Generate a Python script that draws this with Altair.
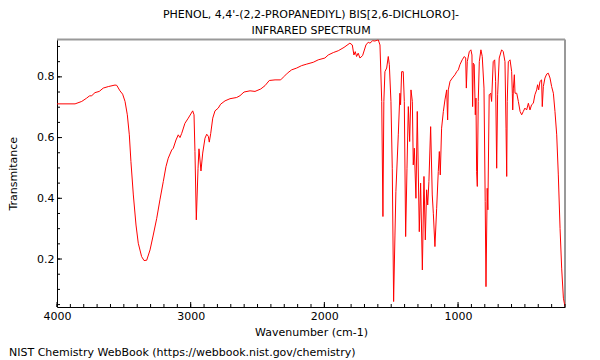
import altair as alt
import pandas as pd

# ---- data ----
wavenumber = [4000, 3865, 3815, 3778, 3758, 3740, 3716, 3684, 3654, 3616, 3566, 3553, 3529, 3509,
              3491, 3474, 3459, 3447, 3429, 3409, 3392, 3367, 3349, 3329, 3304, 3280, 3254, 3230,
              3205, 3185, 3168, 3142, 3130, 3110, 3093, 3080, 3067, 3043, 3018, 2985, 2975, 2968,
              2958, 2945, 2938, 2923, 2910, 2893, 2880, 2868, 2861, 2850, 2835, 2818, 2794, 2776,
              2743, 2706, 2656, 2631, 2601, 2556, 2519, 2476, 2444, 2412, 2369, 2327, 2302, 2277,
              2245, 2207, 2170, 2132, 2083, 2046, 1996, 1971, 1933, 1896, 1853, 1809, 1791, 1779,
              1769, 1759, 1747, 1734, 1714, 1689, 1672, 1659, 1639, 1622, 1597, 1584, 1571, 1562,
              1555, 1547, 1534, 1522, 1514, 1502, 1492, 1482, 1472, 1465, 1447, 1435, 1430, 1422,
              1410, 1402, 1392, 1382, 1372, 1362, 1352, 1342, 1335, 1327, 1315, 1305, 1290, 1280,
              1267, 1255, 1245, 1235, 1227, 1218, 1205, 1193, 1185, 1173, 1160, 1148, 1140, 1133,
              1123, 1110, 1098, 1085, 1078, 1073, 1060, 1043, 1023, 1010, 998, 986, 969, 953,
              943, 938, 931, 916, 904, 896, 891, 886, 879, 871, 866, 861, 856, 849,
              841, 829, 819, 806, 797, 791, 782, 777, 767, 756, 749, 737, 726, 719,
              711, 704, 692, 674, 662, 649, 641, 636, 632, 624, 611, 599, 594, 591,
              586, 579, 574, 561, 549, 536, 524, 512, 500, 487, 474, 462, 450, 437,
              425, 412, 405, 397, 387, 375, 370, 362, 350, 337, 325, 312, 300, 287,
              275, 262, 250, 237, 225, 212, 200]
transmittance = [0.711, 0.711, 0.719, 0.730, 0.737, 0.738, 0.748, 0.752, 0.763, 0.768, 0.773, 0.772, 0.754, 0.743,
                 0.719, 0.675, 0.609, 0.521, 0.411, 0.312, 0.252, 0.208, 0.195, 0.196, 0.230, 0.279, 0.334, 0.395,
                 0.455, 0.504, 0.532, 0.559, 0.565, 0.592, 0.609, 0.600, 0.614, 0.647, 0.664, 0.688, 0.675, 0.554,
                 0.329, 0.499, 0.563, 0.490, 0.549, 0.598, 0.611, 0.604, 0.585, 0.614, 0.664, 0.688, 0.697, 0.710,
                 0.721, 0.728, 0.732, 0.738, 0.750, 0.754, 0.752, 0.760, 0.771, 0.788, 0.790, 0.790, 0.801, 0.812,
                 0.823, 0.829, 0.837, 0.842, 0.848, 0.856, 0.862, 0.872, 0.880, 0.886, 0.897, 0.911, 0.905, 0.872,
                 0.883, 0.867, 0.878, 0.862, 0.870, 0.905, 0.914, 0.911, 0.919, 0.918, 0.922, 0.905, 0.719, 0.340,
                 0.719, 0.817, 0.829, 0.867, 0.840, 0.719, 0.499, 0.060, 0.279, 0.422, 0.609, 0.746, 0.708, 0.817,
                 0.817, 0.719, 0.274, 0.499, 0.702, 0.587, 0.757, 0.719, 0.510, 0.565, 0.400, 0.686, 0.290, 0.450,
                 0.164, 0.472, 0.263, 0.428, 0.378, 0.455, 0.636, 0.411, 0.351, 0.241, 0.367, 0.488, 0.554, 0.477,
                 0.631, 0.686, 0.724, 0.757, 0.658, 0.757, 0.785, 0.796, 0.807, 0.817, 0.823, 0.840, 0.856, 0.867,
                 0.862, 0.763, 0.850, 0.883, 0.889, 0.872, 0.702, 0.845, 0.840, 0.675, 0.730, 0.488, 0.439, 0.719,
                 0.850, 0.889, 0.867, 0.763, 0.389, 0.109, 0.433, 0.362, 0.741, 0.746, 0.719, 0.850, 0.856, 0.785,
                 0.499, 0.741, 0.862, 0.889, 0.883, 0.850, 0.631, 0.472, 0.719, 0.850, 0.856, 0.817, 0.746, 0.691,
                 0.763, 0.807, 0.746, 0.746, 0.719, 0.686, 0.675, 0.686, 0.697, 0.691, 0.713, 0.691, 0.708, 0.713,
                 0.741, 0.757, 0.774, 0.757, 0.785, 0.790, 0.702, 0.768, 0.796, 0.809, 0.812, 0.796, 0.768, 0.746,
                 0.686, 0.609, 0.477, 0.301, 0.170, 0.071, 0.043]

title_lines = ["PHENOL, 4,4'-(2,2-PROPANEDIYL) BIS[2,6-DICHLORO]-", "INFRARED SPECTRUM"]
x_title = "Wavenumber (cm-1)"
y_title = "Transmitance"
footer = ["NIST Chemistry WebBook (https://webbook.nist.gov/chemistry)"]

x_major = [1000, 2000, 3000, 4000]
x_minor = [200, 300, 400, 500, 600, 700, 800, 900, 1000, 1100, 1200, 1300, 1400, 1500, 1600, 1700,
           1800, 1900, 2000, 2100, 2200, 2300, 2400, 2500, 2600, 2700, 2800, 2900, 3000, 3100, 3200,
           3300, 3400, 3500, 3600, 3700, 3800, 3900, 4000]
y_major = [0.2, 0.4, 0.6, 0.8]
y_minor = [0.05, 0.1, 0.15, 0.2, 0.25, 0.3, 0.35, 0.4, 0.45, 0.5, 0.55, 0.6, 0.65, 0.7, 0.75, 0.8,
           0.85, 0.9]

W = 508
H = 267.5
FONT = "DejaVu Sans"

df = pd.DataFrame({"wavenumber": wavenumber, "transmittance": transmittance})
xs = alt.Scale(domain=[200, 4000], reverse=True, nice=False, zero=False)
ys = alt.Scale(domain=[0.042, 0.923], nice=False, zero=False)

x_axis = alt.Axis(values=x_major, format="d", title=x_title, labelPadding=3, labelFlush=False,
                  ticks=False, tickSize=0, grid=False,
                  titleX=W / 2, titleY=25, titleBaseline="middle", titleAlign="center")
y_axis = alt.Axis(values=y_major, format=".1f", title=y_title, labelPadding=3, labelFlush=False,
                  ticks=False, tickSize=0, grid=False,
                  titleX=-44, titleY=H / 2, titleAngle=-90, titleBaseline="middle",
                  titleAlign="center")

line = alt.Chart(df).mark_line(color="#ff0000", strokeWidth=1, clip=True).encode(
    x=alt.X("wavenumber:Q", scale=xs, axis=x_axis),
    y=alt.Y("transmittance:Q", scale=ys, axis=y_axis),
)

xmin_t = alt.Chart(pd.DataFrame({"wavenumber": x_minor})).mark_rule(color="black", strokeWidth=1).encode(
    x=alt.X("wavenumber:Q", scale=xs, axis=x_axis), y=alt.value(H), y2=alt.value(H - 3))
xmaj_t = alt.Chart(pd.DataFrame({"wavenumber": x_major})).mark_rule(color="black", strokeWidth=1).encode(
    x=alt.X("wavenumber:Q", scale=xs, axis=x_axis), y=alt.value(H), y2=alt.value(H - 5))
ymin_t = alt.Chart(pd.DataFrame({"transmittance": y_minor})).mark_rule(color="black", strokeWidth=1).encode(
    y=alt.Y("transmittance:Q", scale=ys, axis=y_axis), x=alt.value(0), x2=alt.value(3))
ymaj_t = alt.Chart(pd.DataFrame({"transmittance": y_major})).mark_rule(color="black", strokeWidth=1).encode(
    y=alt.Y("transmittance:Q", scale=ys, axis=y_axis), x=alt.value(0), x2=alt.value(5))

frame_top = alt.Chart(pd.DataFrame({"a": [0]})).mark_rule(color="#999999", strokeWidth=2).encode(
    x=alt.value(0), x2=alt.value(W), y=alt.value(0))
frame_right = alt.Chart(pd.DataFrame({"a": [0]})).mark_rule(color="#999999", strokeWidth=2).encode(
    x=alt.value(W), y=alt.value(0), y2=alt.value(H))

foot = alt.Chart(pd.DataFrame({"t": footer})).mark_text(
    align="left", baseline="middle", fontSize=11, font=FONT, color="black").encode(
    text="t:N", x=alt.value(-48), y=alt.value(H + 46))

chart = alt.layer(frame_top, frame_right, line, xmin_t, xmaj_t, ymin_t, ymaj_t, foot).properties(
    width=W, height=H,
    background="white",
    title=alt.TitleParams(text=title_lines, fontSize=11, font=FONT, fontWeight="normal",
                          color="black", anchor="middle", frame="group", lineHeight=16, offset=3),
    padding={"left": 49, "top": 31.5, "right": 27, "bottom": 53},
    autosize=alt.AutoSizeParams(type="none"),
).configure_view(stroke=None).configure_axis(
    grid=False, ticks=False, tickSize=0, domainColor="black", domainWidth=1,
    labelFont=FONT, labelFontSize=11, labelColor="black",
    titleFont=FONT, titleFontSize=11, titleFontWeight="normal", titleColor="black",
)

chart.save("out.html", embed_options={"renderer": "svg", "actions": False})
